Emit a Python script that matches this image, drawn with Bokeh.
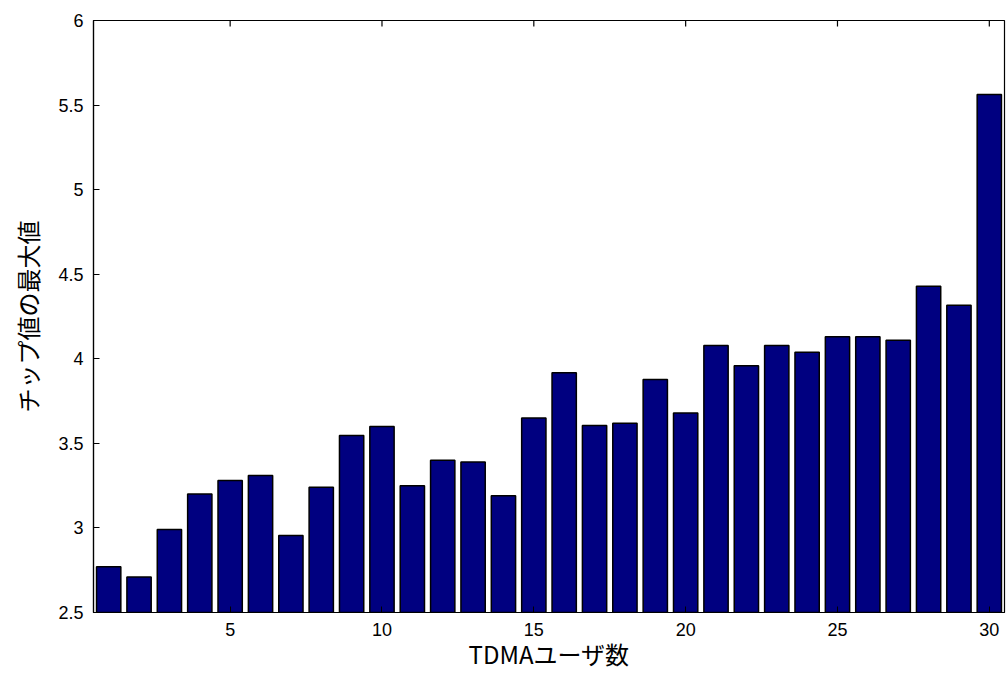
import math
from bokeh.plotting import figure
from bokeh.models import FixedTicker, Range1d, ColumnDataSource
from bokeh.embed import file_html
from bokeh.resources import INLINE

users = list(range(1, 31))
max_chip = [2.77, 2.71, 2.99, 3.20, 3.28, 3.31, 2.955, 3.24, 3.547, 3.60,
            3.25, 3.40, 3.39, 3.19, 3.65, 3.918, 3.606, 3.619, 3.877, 3.68,
            4.079, 3.959, 4.079, 4.038, 4.13, 4.13, 4.11, 4.429, 4.317, 5.563]
x_ticks = [5, 10, 15, 20, 25, 30]
y_ticks = [2.5, 3, 3.5, 4, 4.5, 5, 5.5, 6]
x_title = "TDMAユーザ数"
y_title = "チップ値の最大値"
y_min, y_max = 2.5, 6
x_min, x_max = 0.5, 30.5

src = ColumnDataSource(dict(x=users, top=max_chip))

p = figure(width=1006, height=673, output_backend="svg", toolbar_location=None,
           x_range=Range1d(x_min, x_max), y_range=Range1d(y_min, y_max),
           min_border_left=93, min_border_right=2, min_border_top=20, min_border_bottom=10)
p.vbar(x="x", top="top", bottom=y_min, width=0.8, source=src,
       fill_color="#000080", line_color="black", line_width=1.5)

# inward tick marks on the top edge (half of each dash is clipped by the frame)
p.scatter(x=x_ticks, y=[y_max] * len(x_ticks), marker="dash", angle=math.pi / 2,
          size=12, line_color="black", line_width=1.2)

p.grid.visible = False
p.outline_line_color = "black"
p.outline_line_width = 1.2
p.background_fill_color = "white"
p.border_fill_color = "white"

tick_font = "Liberation Sans"
for ax in (p.xaxis[0], p.yaxis[0]):
    ax.major_tick_in = 6
    ax.major_tick_out = 0
    ax.minor_tick_in = 0
    ax.minor_tick_out = 0
    ax.axis_line_color = "black"
    ax.axis_line_width = 1.2
    ax.major_tick_line_color = "black"
    ax.major_label_text_font = tick_font
    ax.major_label_text_font_size = "18px"
    ax.major_label_text_color = "black"
    ax.axis_label_text_font = "Noto Sans CJK JP"
    ax.axis_label_text_font_size = "24px"
    ax.axis_label_text_font_style = "normal"
    ax.axis_label_text_color = "black"

p.xaxis[0].ticker = FixedTicker(ticks=x_ticks)
p.yaxis[0].ticker = FixedTicker(ticks=y_ticks)
p.xaxis[0].major_label_overrides = {t: str(t) for t in x_ticks}
p.yaxis[0].major_label_overrides = {t: (str(int(t)) if float(t).is_integer() else str(t)) for t in y_ticks}
p.xaxis[0].axis_label = x_title
p.yaxis[0].axis_label = y_title
p.xaxis[0].major_label_standoff = 10
p.xaxis[0].axis_label_standoff = -3
p.yaxis[0].major_label_standoff = 10
p.yaxis[0].axis_label_standoff = 10

open("out.html", "w").write(file_html(p, INLINE))
